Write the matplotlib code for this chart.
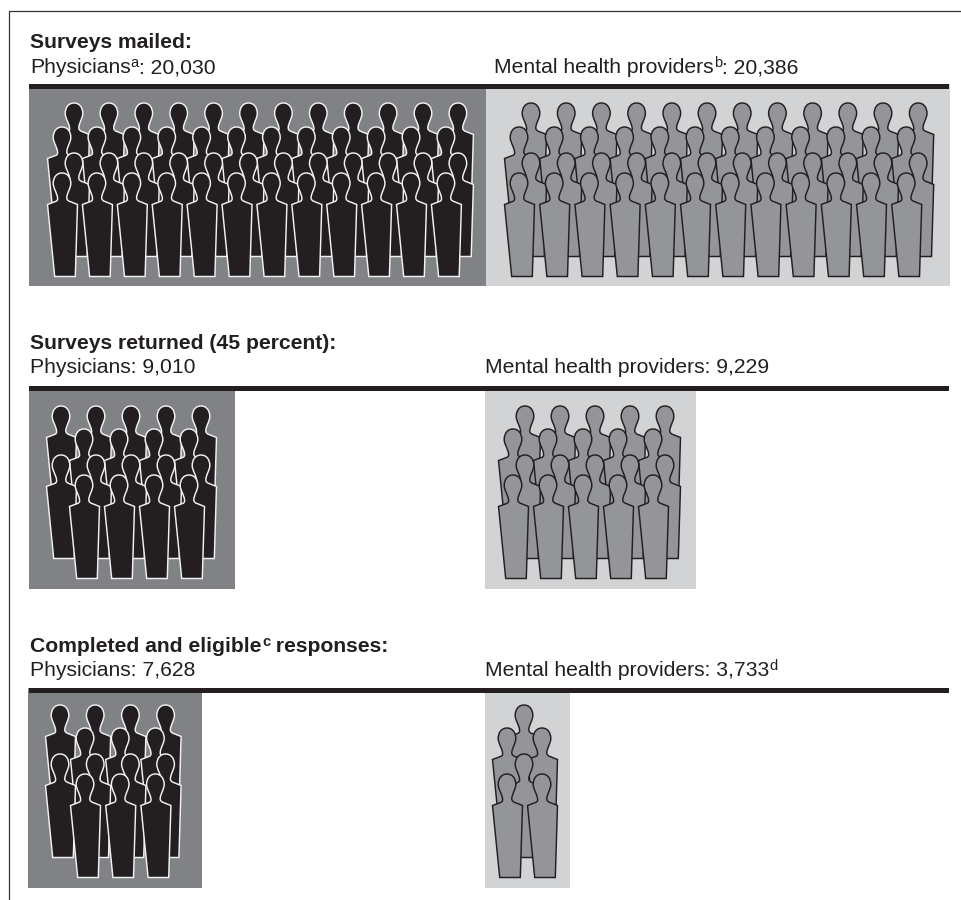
import matplotlib
matplotlib.use("Agg")
import matplotlib.pyplot as plt
from matplotlib.path import Path
from matplotlib.patches import PathPatch, Rectangle
from matplotlib.transforms import Affine2D

plt.rcParams['font.family'] = ['Liberation Sans', 'DejaVu Sans']

# what the chart says
titles = [[("Surveys mailed:", 0)],
          [("Surveys returned (45 percent):", 0)],
          [("Completed and eligible", 0), ("c", 1), (" responses:", 0)]]
physicians = [20030, 9010, 7628]
providers = [20386, 9229, 3733]
physician_notes = ["a", "", ""]
provider_notes = ["b", "", "d"]

# figures drawn per row, back row first
physician_icons = [[12, 12, 12, 12], [5, 4, 5, 4], [4, 3, 4, 3]]
provider_icons = [[12, 12, 12, 12], [5, 5, 5, 5], [1, 2, 1, 2]]

# layout, in pixels of the 962x900 picture
rule_y = [84, 386, 688]
panel_bottom = [286, 589, 888]
title_y = [48, 349, 652]
label_y = [73, 373, 676]
left_panel = [(29, 486), (29, 235), (28, 202)]
right_panel = [(486, 950), (485, 696), (485, 570)]
title_x = 30.5
left_text_x = [30, 30, 30]
right_text_x = [494, 485.5, 485.5]
left_starts = [[74, 62, 74, 62], [61, 84, 61, 84], [60, 85, 60, 85]]
right_starts = [[531, 519, 531, 519], [525, 513, 525, 513], [524, 507, 524, 507]]
left_pitch = [34.9, 35, 35.2]
right_pitch = [35.2, 35, 35]
row_tops = [[103, 127, 153, 173], [406, 429, 455, 475], [705, 728, 754, 774]]

DARK = "#231f20"
DARK_BG = "#808285"
GREY = "#939598"
GREY_BG = "#d1d3d4"
OUTLINE_LIGHT = "#f1f1f2"

# person outline, origin at the top of the head
person_verts = [(0, 0),
                (5.5, 0), (8.8, 4.5), (8.8, 10.5),
                (8.8, 15), (5, 20), (4.8, 24.5),
                (4.6, 27), (6.5, 28), (8, 28.5),
                (15.5, 31.5),
                (13.3, 103.5), (-7.3, 103.5), (-14.5, 31.5),
                (-6.5, 28.5),
                (-5, 28), (-4, 27), (-4.5, 24.5),
                (-5, 20), (-8.8, 15), (-8.8, 10.5),
                (-8.8, 4.5), (-5.5, 0), (0, 0),
                (0, 0)]
person_codes = [Path.MOVETO,
                Path.CURVE4, Path.CURVE4, Path.CURVE4,
                Path.CURVE4, Path.CURVE4, Path.CURVE4,
                Path.CURVE4, Path.CURVE4, Path.CURVE4,
                Path.LINETO,
                Path.LINETO, Path.LINETO, Path.LINETO,
                Path.LINETO,
                Path.CURVE4, Path.CURVE4, Path.CURVE4,
                Path.CURVE4, Path.CURVE4, Path.CURVE4,
                Path.CURVE4, Path.CURVE4, Path.CURVE4,
                Path.CLOSEPOLY]
person = Path(person_verts, person_codes)

fig = plt.figure(figsize=(9.62, 9.0), dpi=100)
ax = fig.add_axes([0, 0, 1, 1])
ax.set_xlim(0, 962)
ax.set_ylim(900, 0)
ax.axis("off")


def draw_run(x, y, pieces, weight="normal"):
    # pieces are (text, is_superscript), each one starts where the last ended
    renderer = fig.canvas.get_renderer()
    for s, sup in pieces:
        if sup:
            ax.text(x, y - 6.3, s, fontsize=10.5, color=DARK, fontweight=weight, va="baseline")
            size = 10.5
        else:
            ax.text(x, y + 0.3, s, fontsize=15.2, color=DARK, fontweight=weight, va="baseline")
            size = 15.2
        # a trailing or leading space is not measured well, so measure with a stop
        probe = ax.text(x, y, s + ".", fontsize=size, fontweight=weight)
        dot = ax.text(x, y, ".", fontsize=size, fontweight=weight)
        w = probe.get_window_extent(renderer).width - dot.get_window_extent(renderer).width
        probe.remove()
        dot.remove()
        x += w


def draw_people(counts, starts, tops, pitch, fill, edge):
    for n, x0, top in zip(counts, starts, tops):
        for i in range(n):
            tr = Affine2D().translate(x0 + i * pitch, top) + ax.transData
            ax.add_patch(PathPatch(person, facecolor=fill, edgecolor=edge, lw=1.05,
                                   transform=tr, joinstyle="miter", zorder=3))


def label(name, value, note):
    if not note:
        return [(f"{name}: {value:,}", 0)]
    if name.startswith("Mental") and value < 10000:
        # this note sits after the number
        return [(f"{name}: {value:,}", 0), (note, 1)]
    return [(name, 0), (note, 1), (f": {value:,}", 0)]


for k in range(3):
    top = rule_y[k]
    bottom = panel_bottom[k]
    for (x0, x1), bg in zip([left_panel[k], right_panel[k]], [DARK_BG, GREY_BG]):
        ax.add_patch(Rectangle((x0, top), x1 - x0, bottom - top, facecolor=bg, edgecolor="none", zorder=1))
    ax.add_patch(Rectangle((29, top), 920, 5.3, facecolor=DARK, edgecolor="none", zorder=2))
    draw_people(physician_icons[k], left_starts[k], row_tops[k], left_pitch[k], DARK, OUTLINE_LIGHT)
    draw_people(provider_icons[k], right_starts[k], row_tops[k], right_pitch[k], GREY, DARK)
    draw_run(title_x, title_y[k], titles[k], weight="bold")
    draw_run(left_text_x[k], label_y[k], label("Physicians", physicians[k], physician_notes[k]))
    draw_run(right_text_x[k], label_y[k], label("Mental health providers", providers[k], provider_notes[k]))

# open frame, top and left only
ax.plot([9.5, 9.5, 962], [900, 10.5, 10.5], color="#333333", lw=0.9, zorder=4,
        solid_joinstyle="miter")

fig.savefig("out.png", dpi=100)
